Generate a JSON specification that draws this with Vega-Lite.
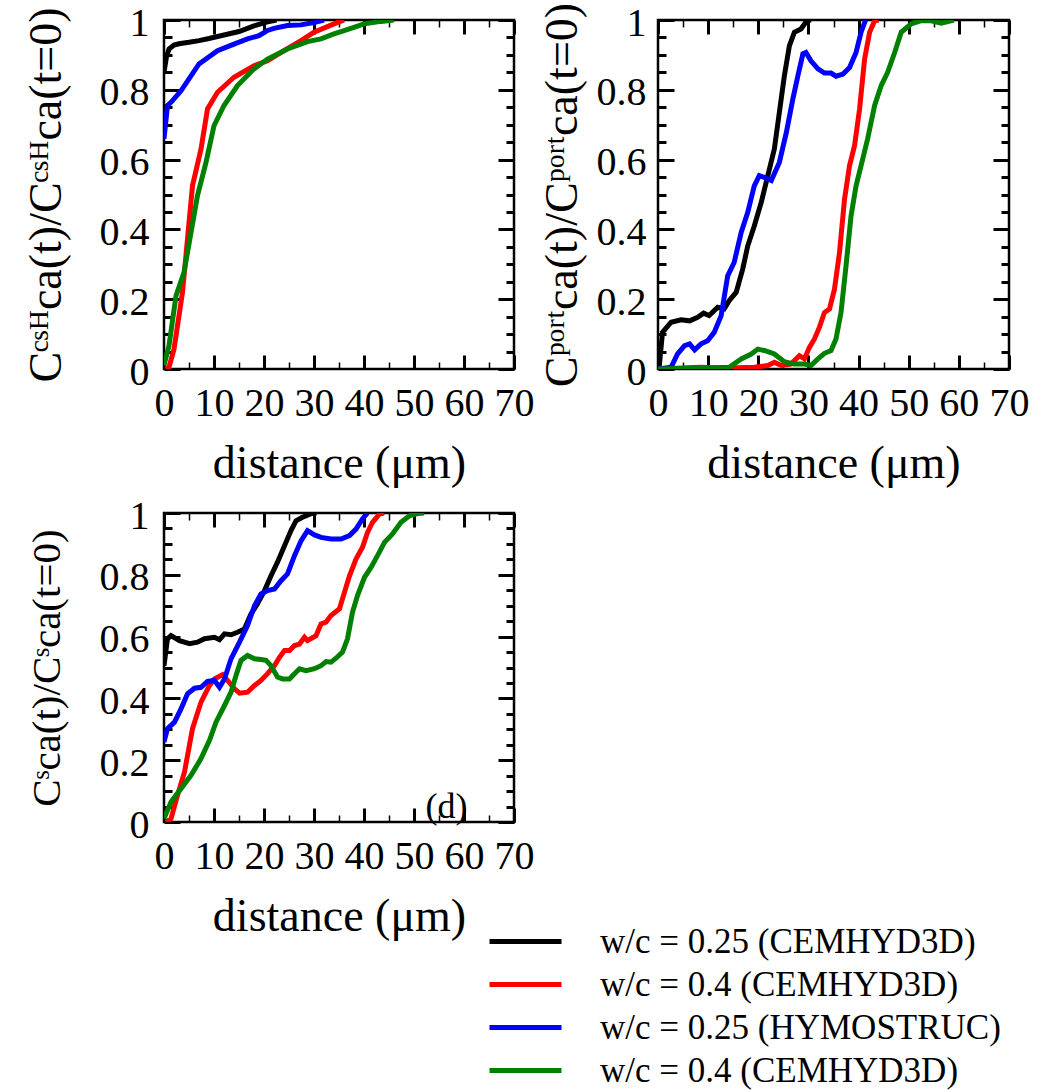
{
"$schema": "https://vega.github.io/schema/vega-lite/v6.json",
"padding": {"left": 21, "top": 1, "right": 5, "bottom": 5},
"bounds": "flush",
"spacing": {"row": 144, "column": 144},
"columns": 2,
"datasets": {
"p1": [
{"s":"A","x":0,"y":0.85},{"s":"A","x":0.5,"y":0.895},{"s":"A","x":1,"y":0.917},{"s":"A","x":2,"y":0.928},{"s":"A","x":3,"y":0.932},{"s":"A","x":5,"y":0.936},{"s":"A","x":7,"y":0.941},{"s":"A","x":9,"y":0.947},{"s":"A","x":12,"y":0.957},{"s":"A","x":15,"y":0.967},{"s":"A","x":18,"y":0.983},{"s":"A","x":20.5,"y":0.994},{"s":"A","x":22.5,"y":1},
{"s":"B","x":0.4,"y":0},{"s":"B","x":1,"y":0.005},{"s":"B","x":2,"y":0.057},{"s":"B","x":3.7,"y":0.22},{"s":"B","x":5.7,"y":0.525},{"s":"B","x":7.4,"y":0.63},{"s":"B","x":8.7,"y":0.745},{"s":"B","x":10.7,"y":0.793},{"s":"B","x":14,"y":0.836},{"s":"B","x":18,"y":0.869},{"s":"B","x":20.7,"y":0.883},{"s":"B","x":24,"y":0.912},{"s":"B","x":27.4,"y":0.941},{"s":"B","x":30,"y":0.965},{"s":"B","x":34,"y":0.989},{"s":"B","x":36,"y":1},
{"s":"C","x":0,"y":0.66},{"s":"C","x":0.7,"y":0.755},{"s":"C","x":1.4,"y":0.764},{"s":"C","x":3.4,"y":0.797},{"s":"C","x":7,"y":0.874},{"s":"C","x":10.7,"y":0.912},{"s":"C","x":14,"y":0.931},{"s":"C","x":16.7,"y":0.946},{"s":"C","x":19,"y":0.955},{"s":"C","x":20.7,"y":0.97},{"s":"C","x":22,"y":0.976},{"s":"C","x":24.7,"y":0.984},{"s":"C","x":27.4,"y":0.986},{"s":"C","x":30,"y":0.993},{"s":"C","x":32,"y":1},
{"s":"D","x":0,"y":0.01},{"s":"D","x":1,"y":0.067},{"s":"D","x":2.4,"y":0.21},{"s":"D","x":4,"y":0.277},{"s":"D","x":6.7,"y":0.497},{"s":"D","x":8.4,"y":0.592},{"s":"D","x":10,"y":0.697},{"s":"D","x":12,"y":0.755},{"s":"D","x":14.7,"y":0.812},{"s":"D","x":18,"y":0.86},{"s":"D","x":20.7,"y":0.888},{"s":"D","x":24.7,"y":0.917},{"s":"D","x":28.7,"y":0.938},{"s":"D","x":31.4,"y":0.946},{"s":"D","x":34,"y":0.96},{"s":"D","x":37.4,"y":0.976},{"s":"D","x":40,"y":0.989},{"s":"D","x":43.4,"y":0.996},{"s":"D","x":46,"y":1}
],
"p2": [
{"s":"A","x":0.2,"y":0},{"s":"A","x":0.9,"y":0.105},{"s":"A","x":2.6,"y":0.134},{"s":"A","x":4.6,"y":0.141},{"s":"A","x":6.3,"y":0.138},{"s":"A","x":7.9,"y":0.148},{"s":"A","x":9.1,"y":0.16},{"s":"A","x":10.2,"y":0.153},{"s":"A","x":11.9,"y":0.177},{"s":"A","x":13.2,"y":0.172},{"s":"A","x":14.2,"y":0.196},{"s":"A","x":15.6,"y":0.22},{"s":"A","x":16.9,"y":0.287},{"s":"A","x":17.9,"y":0.353},{"s":"A","x":19.2,"y":0.41},{"s":"A","x":20.6,"y":0.478},{"s":"A","x":21.9,"y":0.554},{"s":"A","x":23.2,"y":0.63},{"s":"A","x":24.2,"y":0.735},{"s":"A","x":25.2,"y":0.84},{"s":"A","x":26.2,"y":0.926},{"s":"A","x":27.2,"y":0.965},{"s":"A","x":28.5,"y":0.974},{"s":"A","x":29.7,"y":0.998},{"s":"A","x":30.5,"y":1},
{"s":"B","x":0,"y":0},{"s":"B","x":8.6,"y":0.005},{"s":"B","x":12.6,"y":0.002},{"s":"B","x":19.2,"y":0.005},{"s":"B","x":21.9,"y":0.01},{"s":"B","x":23.2,"y":0.019},{"s":"B","x":24.6,"y":0.01},{"s":"B","x":26.5,"y":0.014},{"s":"B","x":28.2,"y":0.038},{"s":"B","x":29.2,"y":0.029},{"s":"B","x":30.2,"y":0.062},{"s":"B","x":31.2,"y":0.086},{"s":"B","x":32.2,"y":0.12},{"s":"B","x":33.2,"y":0.162},{"s":"B","x":34.2,"y":0.172},{"s":"B","x":35.2,"y":0.229},{"s":"B","x":36.2,"y":0.334},{"s":"B","x":37.2,"y":0.487},{"s":"B","x":38.2,"y":0.583},{"s":"B","x":39.2,"y":0.64},{"s":"B","x":40.2,"y":0.745},{"s":"B","x":41.2,"y":0.888},{"s":"B","x":42.2,"y":0.965},{"s":"B","x":43.2,"y":0.998},{"s":"B","x":44,"y":1},
{"s":"C","x":0,"y":0},{"s":"C","x":2.6,"y":0.005},{"s":"C","x":3.9,"y":0.043},{"s":"C","x":5.3,"y":0.067},{"s":"C","x":6.3,"y":0.072},{"s":"C","x":7.3,"y":0.055},{"s":"C","x":8.6,"y":0.072},{"s":"C","x":9.9,"y":0.081},{"s":"C","x":11.2,"y":0.105},{"s":"C","x":12.6,"y":0.153},{"s":"C","x":13.9,"y":0.267},{"s":"C","x":15.2,"y":0.306},{"s":"C","x":16.6,"y":0.392},{"s":"C","x":17.9,"y":0.449},{"s":"C","x":19.2,"y":0.525},{"s":"C","x":20.2,"y":0.554},{"s":"C","x":21.2,"y":0.549},{"s":"C","x":22.6,"y":0.54},{"s":"C","x":24.2,"y":0.592},{"s":"C","x":25.6,"y":0.678},{"s":"C","x":26.9,"y":0.774},{"s":"C","x":27.9,"y":0.84},{"s":"C","x":28.9,"y":0.903},{"s":"C","x":29.5,"y":0.907},{"s":"C","x":30.5,"y":0.883},{"s":"C","x":31.9,"y":0.86},{"s":"C","x":33.2,"y":0.848},{"s":"C","x":34.5,"y":0.848},{"s":"C","x":35.5,"y":0.839},{"s":"C","x":36.9,"y":0.845},{"s":"C","x":38.2,"y":0.864},{"s":"C","x":39.5,"y":0.907},{"s":"C","x":40.5,"y":0.965},{"s":"C","x":41.4,"y":1},
{"s":"D","x":0,"y":0},{"s":"D","x":14.2,"y":0.005},{"s":"D","x":16.6,"y":0.029},{"s":"D","x":18.6,"y":0.043},{"s":"D","x":19.9,"y":0.057},{"s":"D","x":21.2,"y":0.053},{"s":"D","x":23.2,"y":0.043},{"s":"D","x":25.2,"y":0.021},{"s":"D","x":27.2,"y":0.014},{"s":"D","x":29.2,"y":0.014},{"s":"D","x":30.5,"y":0.01},{"s":"D","x":31.9,"y":0.029},{"s":"D","x":33.2,"y":0.045},{"s":"D","x":34.5,"y":0.053},{"s":"D","x":35.5,"y":0.086},{"s":"D","x":36.5,"y":0.162},{"s":"D","x":37.5,"y":0.296},{"s":"D","x":38.5,"y":0.439},{"s":"D","x":39.5,"y":0.525},{"s":"D","x":40.5,"y":0.583},{"s":"D","x":41.8,"y":0.659},{"s":"D","x":43.2,"y":0.755},{"s":"D","x":44.5,"y":0.812},{"s":"D","x":45.8,"y":0.85},{"s":"D","x":47.2,"y":0.907},{"s":"D","x":48.5,"y":0.965},{"s":"D","x":50.5,"y":0.989},{"s":"D","x":52.5,"y":0.998},{"s":"D","x":54.5,"y":0.998},{"s":"D","x":56.5,"y":0.991},{"s":"D","x":59,"y":1}
],
"p3": [
{"s":"A","x":0,"y":0.506},{"s":"A","x":0.7,"y":0.593},{"s":"A","x":1.4,"y":0.603},{"s":"A","x":3.1,"y":0.587},{"s":"A","x":5.1,"y":0.577},{"s":"A","x":6.7,"y":0.582},{"s":"A","x":8.1,"y":0.593},{"s":"A","x":10.1,"y":0.598},{"s":"A","x":11.1,"y":0.59},{"s":"A","x":12.1,"y":0.609},{"s":"A","x":13.4,"y":0.606},{"s":"A","x":14.7,"y":0.614},{"s":"A","x":16.1,"y":0.625},{"s":"A","x":17.4,"y":0.673},{"s":"A","x":18.7,"y":0.706},{"s":"A","x":20.1,"y":0.749},{"s":"A","x":21.4,"y":0.797},{"s":"A","x":22.7,"y":0.841},{"s":"A","x":24.1,"y":0.894},{"s":"A","x":25.4,"y":0.943},{"s":"A","x":26.4,"y":0.975},{"s":"A","x":27.7,"y":0.986},{"s":"A","x":29.4,"y":0.998},{"s":"A","x":30.5,"y":1},
{"s":"B","x":0.4,"y":0},{"s":"B","x":1.4,"y":0.011},{"s":"B","x":2.7,"y":0.086},{"s":"B","x":4.1,"y":0.162},{"s":"B","x":5.7,"y":0.302},{"s":"B","x":7.4,"y":0.388},{"s":"B","x":9.1,"y":0.442},{"s":"B","x":10.1,"y":0.463},{"s":"B","x":11.7,"y":0.477},{"s":"B","x":12.7,"y":0.458},{"s":"B","x":14.1,"y":0.431},{"s":"B","x":15.1,"y":0.417},{"s":"B","x":16.7,"y":0.42},{"s":"B","x":18.1,"y":0.442},{"s":"B","x":19.4,"y":0.458},{"s":"B","x":20.7,"y":0.48},{"s":"B","x":22.1,"y":0.506},{"s":"B","x":23.1,"y":0.533},{"s":"B","x":24.1,"y":0.555},{"s":"B","x":25.1,"y":0.555},{"s":"B","x":26.1,"y":0.571},{"s":"B","x":27.1,"y":0.576},{"s":"B","x":28.1,"y":0.598},{"s":"B","x":28.7,"y":0.587},{"s":"B","x":30.4,"y":0.603},{"s":"B","x":31.4,"y":0.641},{"s":"B","x":32.4,"y":0.647},{"s":"B","x":33.4,"y":0.668},{"s":"B","x":35.1,"y":0.69},{"s":"B","x":36.1,"y":0.744},{"s":"B","x":37.1,"y":0.797},{"s":"B","x":38.4,"y":0.851},{"s":"B","x":39.7,"y":0.889},{"s":"B","x":40.7,"y":0.937},{"s":"B","x":41.7,"y":0.97},{"s":"B","x":43.1,"y":0.997},{"s":"B","x":44,"y":1},
{"s":"C","x":0,"y":0.259},{"s":"C","x":0.7,"y":0.302},{"s":"C","x":2.1,"y":0.323},{"s":"C","x":3.4,"y":0.366},{"s":"C","x":4.7,"y":0.415},{"s":"C","x":6.1,"y":0.433},{"s":"C","x":7.4,"y":0.436},{"s":"C","x":8.7,"y":0.455},{"s":"C","x":10.1,"y":0.458},{"s":"C","x":11.1,"y":0.436},{"s":"C","x":12.1,"y":0.463},{"s":"C","x":13.4,"y":0.528},{"s":"C","x":15.1,"y":0.582},{"s":"C","x":16.7,"y":0.636},{"s":"C","x":18.1,"y":0.7},{"s":"C","x":19.4,"y":0.738},{"s":"C","x":20.7,"y":0.749},{"s":"C","x":22.1,"y":0.754},{"s":"C","x":23.4,"y":0.781},{"s":"C","x":24.7,"y":0.803},{"s":"C","x":26.1,"y":0.862},{"s":"C","x":27.4,"y":0.91},{"s":"C","x":28.7,"y":0.943},{"s":"C","x":30.1,"y":0.929},{"s":"C","x":31.4,"y":0.921},{"s":"C","x":33.4,"y":0.916},{"s":"C","x":35.4,"y":0.916},{"s":"C","x":37.1,"y":0.927},{"s":"C","x":38.4,"y":0.948},{"s":"C","x":39.7,"y":0.981},{"s":"C","x":40.7,"y":1},
{"s":"D","x":0,"y":0.011},{"s":"D","x":1.4,"y":0.065},{"s":"D","x":3.4,"y":0.108},{"s":"D","x":5.4,"y":0.151},{"s":"D","x":7.4,"y":0.205},{"s":"D","x":9.1,"y":0.264},{"s":"D","x":10.4,"y":0.323},{"s":"D","x":12.1,"y":0.377},{"s":"D","x":13.4,"y":0.42},{"s":"D","x":14.4,"y":0.474},{"s":"D","x":15.4,"y":0.523},{"s":"D","x":16.7,"y":0.539},{"s":"D","x":18.1,"y":0.528},{"s":"D","x":19.4,"y":0.526},{"s":"D","x":20.4,"y":0.523},{"s":"D","x":21.4,"y":0.506},{"s":"D","x":22.7,"y":0.469},{"s":"D","x":23.7,"y":0.463},{"s":"D","x":25.1,"y":0.463},{"s":"D","x":26.1,"y":0.48},{"s":"D","x":27.1,"y":0.496},{"s":"D","x":28.4,"y":0.49},{"s":"D","x":30.1,"y":0.496},{"s":"D","x":31.4,"y":0.506},{"s":"D","x":32.4,"y":0.519},{"s":"D","x":33.4,"y":0.517},{"s":"D","x":34.4,"y":0.53},{"s":"D","x":35.7,"y":0.55},{"s":"D","x":36.7,"y":0.593},{"s":"D","x":37.7,"y":0.679},{"s":"D","x":38.7,"y":0.733},{"s":"D","x":40.1,"y":0.792},{"s":"D","x":41.4,"y":0.824},{"s":"D","x":42.7,"y":0.862},{"s":"D","x":44.1,"y":0.905},{"s":"D","x":45.7,"y":0.932},{"s":"D","x":47.4,"y":0.97},{"s":"D","x":49.1,"y":0.991},{"s":"D","x":50.7,"y":0.998},{"s":"D","x":52,"y":1}
],
"lbl": [{"x": 56.5, "y": 0.05, "t": "(d)"}]
},
"concat": [
{"width": 350, "height": 349, "data": {"name": "p1"},
 "layer": [
  {"mark": {"type": "line", "strokeWidth": 5, "clip": true},
   "encoding": {
    "x": {"field": "x", "type": "quantitative", "scale": {"domain": [0, 70], "nice": false}, "axis": {"orient": "bottom", "values": [0,10,20,30,40,50,60,70], "ticks": false, "labelPadding": 14, "title": "distance (μm)", "titleFontSize": 46, "titlePadding": 18}},
    "y": {"field": "y", "type": "quantitative", "scale": {"domain": [0, 1], "nice": false}, "axis": {"orient": "left", "values": [0,0.2,0.4,0.6,0.8,1], "format": "~g", "ticks": false, "labelPadding": 15, "labelOffset": 3, "title": "Cᶜˢᴴca(t)/Cᶜˢᴴca(t=0)", "titleFontSize": 46, "titlePadding": 29}},
    "color": {"field": "s", "type": "nominal", "scale": {"domain": ["A","B","C","D"], "range": ["#000000","#ff0000","#0000ff","#008000"]}, "legend": {"labelExpr": "datum.value == 'A' ? 'w/c = 0.25 (CEMHYD3D)' : datum.value == 'B' ? 'w/c = 0.4 (CEMHYD3D)' : datum.value == 'C' ? 'w/c = 0.25 (HYMOSTRUC)' : 'w/c = 0.4 (CEMHYD3D)'"}}
   }},
  {"mark": {"type": "point", "opacity": 0},
   "encoding": {
    "x": {"field": "x", "type": "quantitative", "scale": {"domain": [0, 70], "nice": false}, "axis": {"orient": "bottom", "values": [0,10,20,30,40,50,60,70], "labels": false, "tickSize": -14, "tickWidth": 3, "title": null}},
    "y": {"field": "y", "type": "quantitative", "scale": {"domain": [0, 1], "nice": false}, "axis": {"orient": "left", "values": [0,0.2,0.4,0.6,0.8,1], "labels": false, "tickSize": -16, "tickWidth": 3, "title": null}}
   }},
  {"mark": {"type": "point", "opacity": 0},
   "encoding": {
    "x": {"field": "x", "type": "quantitative", "scale": {"domain": [0, 70], "nice": false}, "axis": {"orient": "bottom", "values": [5,15,25,35,45,55,65], "labels": false, "tickSize": -7, "tickWidth": 1.5, "title": null}},
    "y": {"field": "y", "type": "quantitative", "scale": {"domain": [0, 1], "nice": false}, "axis": {"orient": "left", "values": [0.05,0.1,0.15,0.25,0.3,0.35,0.45,0.5,0.55,0.65,0.7,0.75,0.85,0.9,0.95], "labels": false, "tickSize": -8, "tickWidth": 3, "title": null}}
   }},
  {"mark": {"type": "point", "opacity": 0},
   "encoding": {
    "x": {"field": "x", "type": "quantitative", "scale": {"domain": [0, 70], "nice": false}, "axis": {"orient": "top", "values": [0,10,20,30,40,50,60,70], "labels": false, "tickSize": -14, "tickWidth": 3, "title": null}},
    "y": {"field": "y", "type": "quantitative", "scale": {"domain": [0, 1], "nice": false}, "axis": {"orient": "right", "values": [0,0.2,0.4,0.6,0.8,1], "labels": false, "tickSize": -16, "tickWidth": 3, "title": null}}
   }},
  {"mark": {"type": "point", "opacity": 0},
   "encoding": {
    "x": {"field": "x", "type": "quantitative", "scale": {"domain": [0, 70], "nice": false}, "axis": {"orient": "top", "values": [5,15,25,35,45,55,65], "labels": false, "tickSize": -7, "tickWidth": 1.5, "title": null}},
    "y": {"field": "y", "type": "quantitative", "scale": {"domain": [0, 1], "nice": false}, "axis": {"orient": "right", "values": [0.05,0.1,0.15,0.25,0.3,0.35,0.45,0.5,0.55,0.65,0.7,0.75,0.85,0.9,0.95], "labels": false, "tickSize": -8, "tickWidth": 3, "title": null}}
   }}
 ],
 "resolve": {"axis": {"x": "independent", "y": "independent"}}
},
{"width": 351, "height": 349, "data": {"name": "p2"},
 "layer": [
  {"mark": {"type": "line", "strokeWidth": 5, "clip": true},
   "encoding": {
    "x": {"field": "x", "type": "quantitative", "scale": {"domain": [0, 70], "nice": false}, "axis": {"orient": "bottom", "values": [0,10,20,30,40,50,60,70], "ticks": false, "labelPadding": 14, "title": "distance (μm)", "titleFontSize": 46, "titlePadding": 18}},
    "y": {"field": "y", "type": "quantitative", "scale": {"domain": [0, 1], "nice": false}, "axis": {"orient": "left", "values": [0,0.2,0.4,0.6,0.8,1], "format": "~g", "ticks": false, "labelPadding": 12, "labelOffset": 3, "title": "Cᵖᵒʳᵗca(t)/Cᵖᵒʳᵗca(t=0)", "titleFontSize": 46, "titlePadding": 10}},
    "color": {"field": "s", "type": "nominal", "scale": {"domain": ["A","B","C","D"], "range": ["#000000","#ff0000","#0000ff","#008000"]}, "legend": {"labelExpr": "datum.value == 'A' ? 'w/c = 0.25 (CEMHYD3D)' : datum.value == 'B' ? 'w/c = 0.4 (CEMHYD3D)' : datum.value == 'C' ? 'w/c = 0.25 (HYMOSTRUC)' : 'w/c = 0.4 (CEMHYD3D)'"}}
   }},
  {"mark": {"type": "point", "opacity": 0},
   "encoding": {
    "x": {"field": "x", "type": "quantitative", "scale": {"domain": [0, 70], "nice": false}, "axis": {"orient": "bottom", "values": [0,10,20,30,40,50,60,70], "labels": false, "tickSize": -14, "tickWidth": 3, "title": null}},
    "y": {"field": "y", "type": "quantitative", "scale": {"domain": [0, 1], "nice": false}, "axis": {"orient": "left", "values": [0,0.2,0.4,0.6,0.8,1], "labels": false, "tickSize": -16, "tickWidth": 3, "title": null}}
   }},
  {"mark": {"type": "point", "opacity": 0},
   "encoding": {
    "x": {"field": "x", "type": "quantitative", "scale": {"domain": [0, 70], "nice": false}, "axis": {"orient": "bottom", "values": [5,15,25,35,45,55,65], "labels": false, "tickSize": -7, "tickWidth": 1.5, "title": null}},
    "y": {"field": "y", "type": "quantitative", "scale": {"domain": [0, 1], "nice": false}, "axis": {"orient": "left", "values": [0.05,0.1,0.15,0.25,0.3,0.35,0.45,0.5,0.55,0.65,0.7,0.75,0.85,0.9,0.95], "labels": false, "tickSize": -8, "tickWidth": 3, "title": null}}
   }},
  {"mark": {"type": "point", "opacity": 0},
   "encoding": {
    "x": {"field": "x", "type": "quantitative", "scale": {"domain": [0, 70], "nice": false}, "axis": {"orient": "top", "values": [0,10,20,30,40,50,60,70], "labels": false, "tickSize": -14, "tickWidth": 3, "title": null}},
    "y": {"field": "y", "type": "quantitative", "scale": {"domain": [0, 1], "nice": false}, "axis": {"orient": "right", "values": [0,0.2,0.4,0.6,0.8,1], "labels": false, "tickSize": -16, "tickWidth": 3, "title": null}}
   }},
  {"mark": {"type": "point", "opacity": 0},
   "encoding": {
    "x": {"field": "x", "type": "quantitative", "scale": {"domain": [0, 70], "nice": false}, "axis": {"orient": "top", "values": [5,15,25,35,45,55,65], "labels": false, "tickSize": -7, "tickWidth": 1.5, "title": null}},
    "y": {"field": "y", "type": "quantitative", "scale": {"domain": [0, 1], "nice": false}, "axis": {"orient": "right", "values": [0.05,0.1,0.15,0.25,0.3,0.35,0.45,0.5,0.55,0.65,0.7,0.75,0.85,0.9,0.95], "labels": false, "tickSize": -8, "tickWidth": 3, "title": null}}
   }}
 ],
 "resolve": {"axis": {"x": "independent", "y": "independent"}}
},
{"width": 350, "height": 309,
 "layer": [
  {"data": {"name": "p3"}, "mark": {"type": "line", "strokeWidth": 5, "clip": true},
   "encoding": {
    "x": {"field": "x", "type": "quantitative", "scale": {"domain": [0, 70], "nice": false}, "axis": {"orient": "bottom", "values": [0,10,20,30,40,50,60,70], "ticks": false, "labelPadding": 14, "title": "distance (μm)", "titleFontSize": 46, "titlePadding": 18}},
    "y": {"field": "y", "type": "quantitative", "scale": {"domain": [0, 1], "nice": false}, "axis": {"orient": "left", "values": [0,0.2,0.4,0.6,0.8,1], "format": "~g", "ticks": false, "labelPadding": 15, "labelOffset": 3, "title": "Cˢca(t)/Cˢca(t=0)", "titleFontSize": 41, "titlePadding": 31}},
    "color": {"field": "s", "type": "nominal", "scale": {"domain": ["A","B","C","D"], "range": ["#000000","#ff0000","#0000ff","#008000"]}, "legend": {"labelExpr": "datum.value == 'A' ? 'w/c = 0.25 (CEMHYD3D)' : datum.value == 'B' ? 'w/c = 0.4 (CEMHYD3D)' : datum.value == 'C' ? 'w/c = 0.25 (HYMOSTRUC)' : 'w/c = 0.4 (CEMHYD3D)'"}}
   }},
  {"data": {"name": "p3"}, "mark": {"type": "point", "opacity": 0},
   "encoding": {
    "x": {"field": "x", "type": "quantitative", "scale": {"domain": [0, 70], "nice": false}, "axis": {"orient": "bottom", "values": [0,10,20,30,40,50,60,70], "labels": false, "tickSize": -14, "tickWidth": 3, "title": null}},
    "y": {"field": "y", "type": "quantitative", "scale": {"domain": [0, 1], "nice": false}, "axis": {"orient": "left", "values": [0,0.2,0.4,0.6,0.8,1], "labels": false, "tickSize": -16, "tickWidth": 3, "title": null}}
   }},
  {"data": {"name": "p3"}, "mark": {"type": "point", "opacity": 0},
   "encoding": {
    "x": {"field": "x", "type": "quantitative", "scale": {"domain": [0, 70], "nice": false}, "axis": {"orient": "bottom", "values": [5,15,25,35,45,55,65], "labels": false, "tickSize": -7, "tickWidth": 1.5, "title": null}},
    "y": {"field": "y", "type": "quantitative", "scale": {"domain": [0, 1], "nice": false}, "axis": {"orient": "left", "values": [0.05,0.1,0.15,0.25,0.3,0.35,0.45,0.5,0.55,0.65,0.7,0.75,0.85,0.9,0.95], "labels": false, "tickSize": -8, "tickWidth": 3, "title": null}}
   }},
  {"data": {"name": "p3"}, "mark": {"type": "point", "opacity": 0},
   "encoding": {
    "x": {"field": "x", "type": "quantitative", "scale": {"domain": [0, 70], "nice": false}, "axis": {"orient": "top", "values": [0,10,20,30,40,50,60,70], "labels": false, "tickSize": -14, "tickWidth": 3, "title": null}},
    "y": {"field": "y", "type": "quantitative", "scale": {"domain": [0, 1], "nice": false}, "axis": {"orient": "right", "values": [0,0.2,0.4,0.6,0.8,1], "labels": false, "tickSize": -16, "tickWidth": 3, "title": null}}
   }},
  {"data": {"name": "p3"}, "mark": {"type": "point", "opacity": 0},
   "encoding": {
    "x": {"field": "x", "type": "quantitative", "scale": {"domain": [0, 70], "nice": false}, "axis": {"orient": "top", "values": [5,15,25,35,45,55,65], "labels": false, "tickSize": -7, "tickWidth": 1.5, "title": null}},
    "y": {"field": "y", "type": "quantitative", "scale": {"domain": [0, 1], "nice": false}, "axis": {"orient": "right", "values": [0.05,0.1,0.15,0.25,0.3,0.35,0.45,0.5,0.55,0.65,0.7,0.75,0.85,0.9,0.95], "labels": false, "tickSize": -8, "tickWidth": 3, "title": null}}
   }},
  {"data": {"name": "lbl"}, "mark": {"type": "text", "font": "Liberation Serif", "fontSize": 36, "align": "center", "baseline": "middle", "color": "black"},
   "encoding": {
    "x": {"field": "x", "type": "quantitative", "scale": {"domain": [0, 70], "nice": false}, "axis": null},
    "y": {"field": "y", "type": "quantitative", "scale": {"domain": [0, 1], "nice": false}, "axis": null},
    "text": {"field": "t"}
   }}
 ],
 "resolve": {"axis": {"x": "independent", "y": "independent"}}
}
],
"config": {
 "font": "Liberation Serif",
 "view": {"stroke": "black", "strokeWidth": 2.5},
 "axis": {"grid": false, "domain": false, "labelFont": "Liberation Serif", "labelFontSize": 40, "labelColor": "black", "tickColor": "black", "titleFont": "Liberation Serif", "titleFontWeight": "normal", "titleColor": "black", "labelOverlap": false, "labelFlush": false},
 "legend": {"orient": "none", "legendX": 341, "legendY": 901, "title": null, "symbolType": "M-2,0H2", "symbolSize": 1296, "symbolStrokeWidth": 5, "labelFont": "Liberation Serif", "labelFontSize": 35, "labelColor": "black", "labelOffset": 54, "labelLimit": 0, "rowPadding": 4}
}
}
